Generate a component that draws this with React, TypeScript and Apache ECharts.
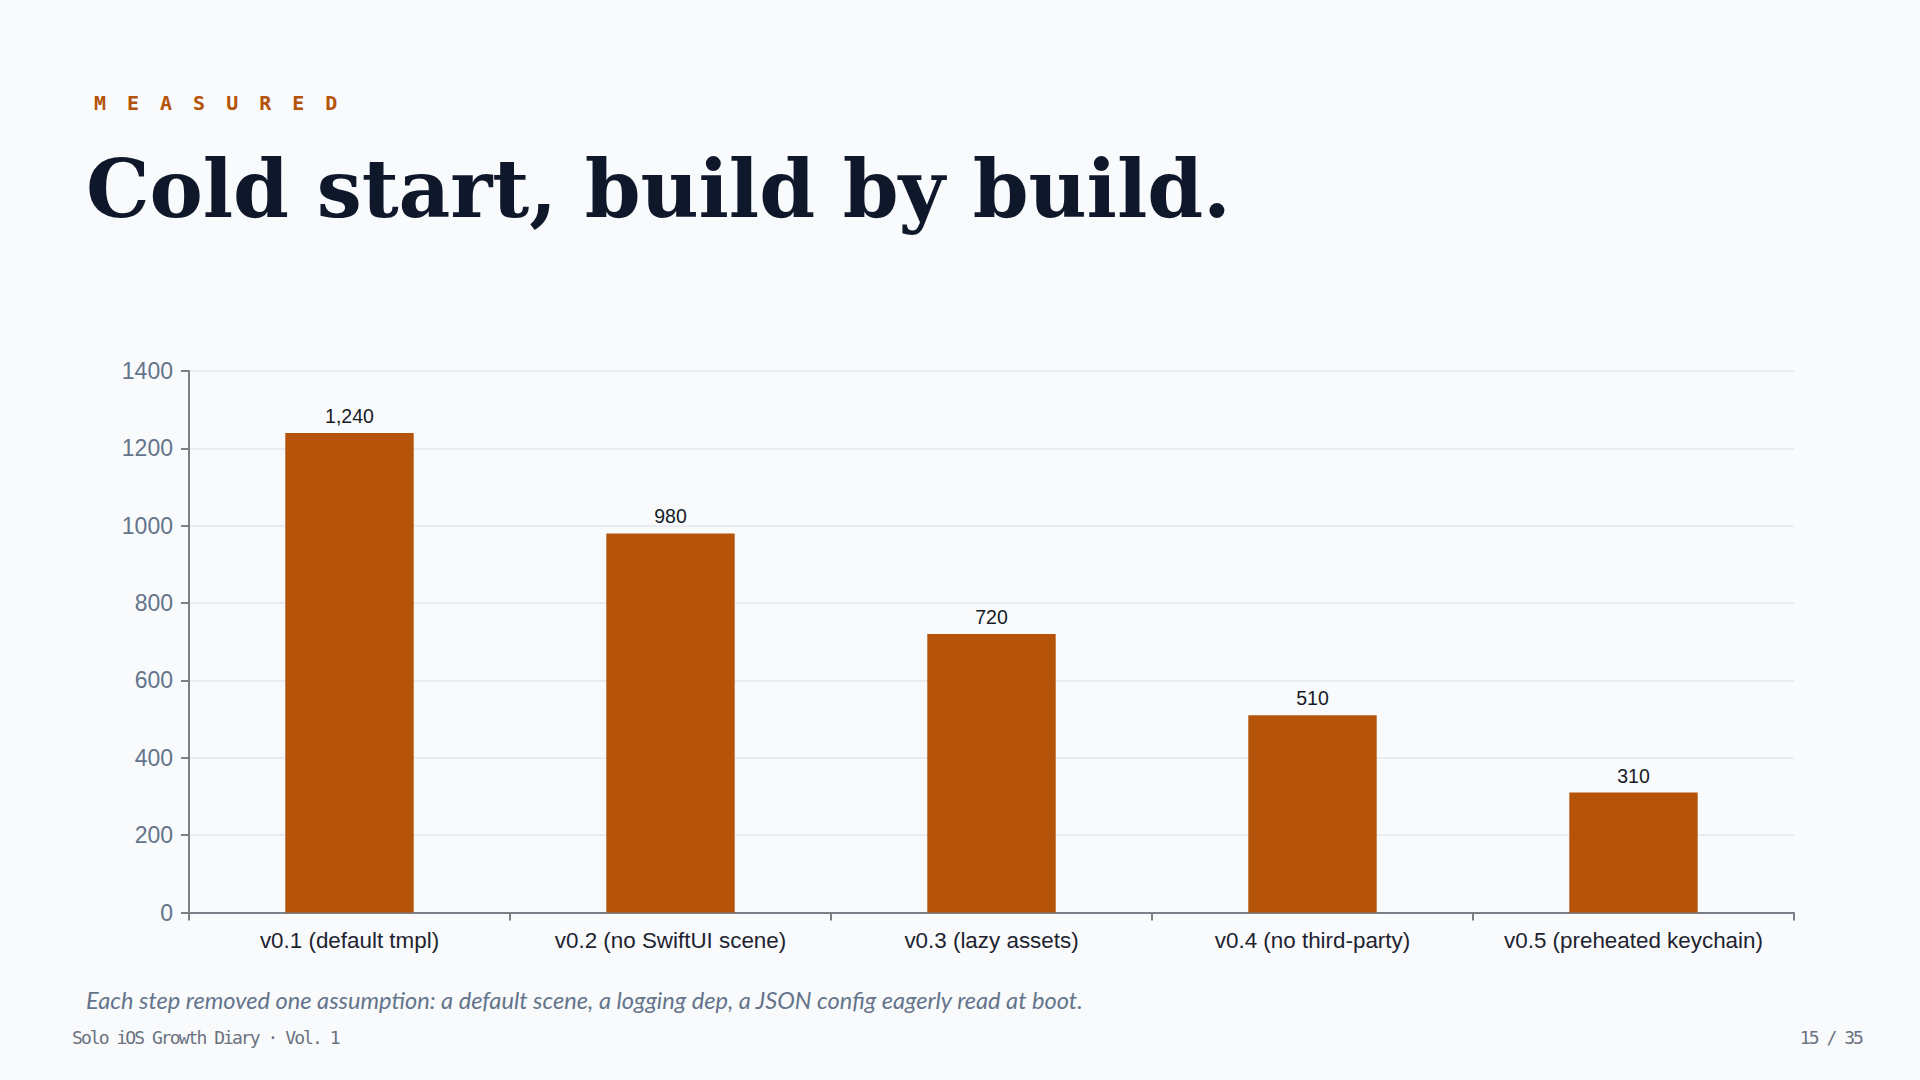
import React, { useEffect, useRef } from "react";
import * as echarts from "echarts";

const categories: string[] = [
  "v0.1 (default tmpl)",
  "v0.2 (no SwiftUI scene)",
  "v0.3 (lazy assets)",
  "v0.4 (no third-party)",
  "v0.5 (preheated keychain)",
];
const coldStartMs: number[] = [1240, 980, 720, 510, 310];
const yMin = 0;
const yMax = 1400;
const yInterval = 200;

const kicker = "MEASURED";
const title = "Cold start, build by build.";
const caption =
  "Each step removed one assumption: a default scene, a logging dep, a JSON config eagerly read at boot.";
const footerLeft = "Solo iOS Growth Diary · Vol. 1";
const footerRight = "15 / 35";

const BG = "#f8fafc";
const ACCENT = "#b45309";

export default function App() {
  const ref = useRef<HTMLDivElement>(null);

  useEffect(() => {
    document.body.style.margin = "0";
    document.body.style.background = BG;
    if (!ref.current) return;
    const chart = echarts.init(ref.current, undefined, { renderer: "svg" });
    chart.setOption({
      animation: false,
      backgroundColor: "transparent",
      grid: { left: 189, right: 126, top: 371, bottom: 167.5, containLabel: false },
      xAxis: {
        type: "category",
        data: categories,
        axisLine: { show: true, lineStyle: { color: "#7b7f87", width: 2 } },
        axisTick: {
          show: true,
          interval: 0,
          length: 8,
          alignWithLabel: false,
          lineStyle: { color: "#7b7f87", width: 2 },
        },
        axisLabel: {
          interval: 0,
          hideOverlap: false,
          fontSize: 22.4,
          margin: 17,
          color: "#1e2330",
          fontFamily: "'Liberation Sans', Arial, sans-serif",
        },
      },
      yAxis: {
        type: "value",
        min: yMin,
        max: yMax,
        interval: yInterval,
        axisLine: { show: true, lineStyle: { color: "#7b7f87", width: 2 } },
        axisTick: { show: true, length: 8, lineStyle: { color: "#7b7f87", width: 2 } },
        axisLabel: {
          fontSize: 23,
          margin: 16,
          color: "#64748b",
          fontFamily: "'Liberation Sans', Arial, sans-serif",
          formatter: (v: number) => String(v),
        },
        splitLine: { show: true, lineStyle: { color: "#e5e9f0", width: 1.5 } },
      },
      series: [
        {
          type: "bar",
          data: coldStartMs,
          barWidth: "40%",
          itemStyle: { color: ACCENT },
          label: {
            show: true,
            position: "top",
            distance: 7,
            fontSize: 19.5,
            color: "#161b26",
            fontFamily: "'Liberation Sans', Arial, sans-serif",
            formatter: (p: any) => Number(p.value).toLocaleString("en-US"),
          },
        },
      ],
    });
    return () => chart.dispose();
  }, []);

  return (
    <div
      style={{
        position: "fixed",
        left: 0,
        top: 0,
        width: 1920,
        height: 1080,
        background: BG,
        overflow: "hidden",
      }}
    >
      <div ref={ref} style={{ position: "absolute", left: 0, top: 0, width: 1920, height: 1080 }} />
      <div
        style={{
          position: "absolute",
          left: 94,
          top: 93,
          fontFamily: "'DejaVu Sans Mono', monospace",
          fontWeight: 700,
          fontSize: 20,
          lineHeight: 1,
          letterSpacing: "21px",
          color: ACCENT,
          whiteSpace: "nowrap",
        }}
      >
        {kicker}
      </div>
      <div
        style={{
          position: "absolute",
          left: 86,
          top: 149,
          fontFamily: "'DejaVu Serif', serif",
          fontWeight: 700,
          fontSize: 80,
          lineHeight: 1,
          letterSpacing: "-0.1px",
          color: "#0f172a",
          whiteSpace: "nowrap",
        }}
      >
        {title}
      </div>
      <div
        style={{
          position: "absolute",
          left: 86,
          top: 988.5,
          fontFamily: "Lato, sans-serif",
          fontStyle: "italic",
          fontSize: 23.6,
          lineHeight: 1,
          color: "#64748b",
          whiteSpace: "nowrap",
        }}
      >
        {caption}
      </div>
      <div
        style={{
          position: "absolute",
          left: 72,
          top: 1029,
          fontFamily: "'DejaVu Sans Mono', monospace",
          fontSize: 18,
          lineHeight: 1,
          letterSpacing: "-1.95px",
          color: "#6b7280",
          whiteSpace: "nowrap",
        }}
      >
        {footerLeft}
      </div>
      <div
        style={{
          position: "absolute",
          right: 58,
          top: 1029,
          fontFamily: "'DejaVu Sans Mono', monospace",
          fontSize: 18,
          lineHeight: 1,
          letterSpacing: "-1.95px",
          color: "#6b7280",
          whiteSpace: "nowrap",
        }}
      >
        {footerRight}
      </div>
    </div>
  );
}
